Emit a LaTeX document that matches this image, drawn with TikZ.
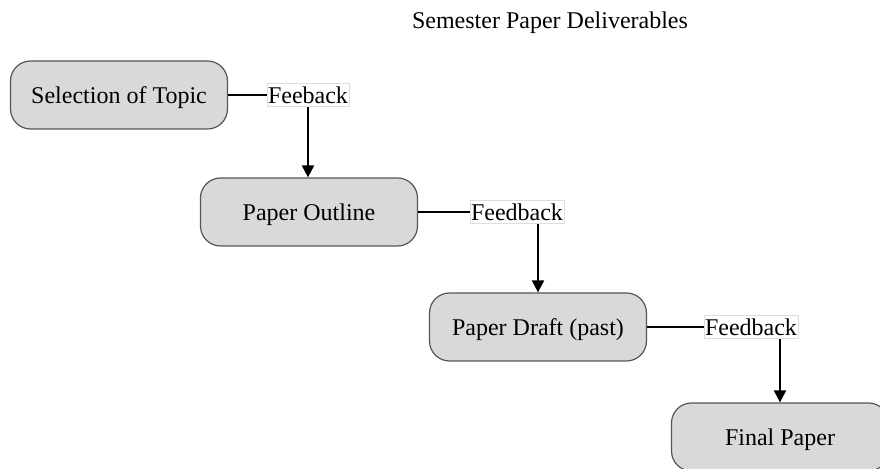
\documentclass[tikz,border=0pt]{standalone}
\usepackage{fontspec}
\setmainfont{Liberation Serif}
\usepackage{tikz}
\usetikzlibrary{arrows.meta}

\definecolor{boxfill}{HTML}{D9D9D9}
\definecolor{boxline}{HTML}{555555}
\definecolor{fbline}{HTML}{DDDDDD}

\begin{document}
\begin{tikzpicture}[x=0.5pt,y=-0.5pt,>={Triangle[length=6pt,width=6pt]},line width=1pt,
  font=\fontsize{12}{14}\selectfont,
  step node/.style={rectangle,rounded corners=10pt,fill=boxfill,draw=boxline,line width=0.6pt,
    minimum width=108.5pt,minimum height=34pt,inner sep=0pt,text depth=0pt},
  fb node/.style={rectangle,fill=white,draw=fbline,line width=0.4pt,inner xsep=0.5pt,inner ysep=1.5pt}]
  \clip (0,0) rectangle (880,469);
  \useasboundingbox (0,0) rectangle (880,469);

  \node (title) at (550,23) {Semester Paper Deliverables};

  \node[step node] (1) at (119,95) {Selection of Topic};
  \node[step node] (2) at (309,212) {Paper Outline};
  \node[step node] (3) at (538,327) {Paper Draft (past)};
  \node[step node] (4) at (780,437) {Final Paper};

  \node[fb node] (f1) at (308,95) {Feeback};
  \node[fb node] (f2) at (517,212) {Feedback};
  \node[fb node] (f3) at (751,327) {Feedback};

  \draw (1) -- (f1);
  \draw (2) -- (f2);
  \draw (3) -- (f3);
  \draw[->] (f1.south) -- (2.north -| f1.south);
  \draw[->] (3.north |- f2.south) -- (3.north);
  \draw[->] (4.north |- f3.south) -- (4.north);
\end{tikzpicture}
\end{document}
